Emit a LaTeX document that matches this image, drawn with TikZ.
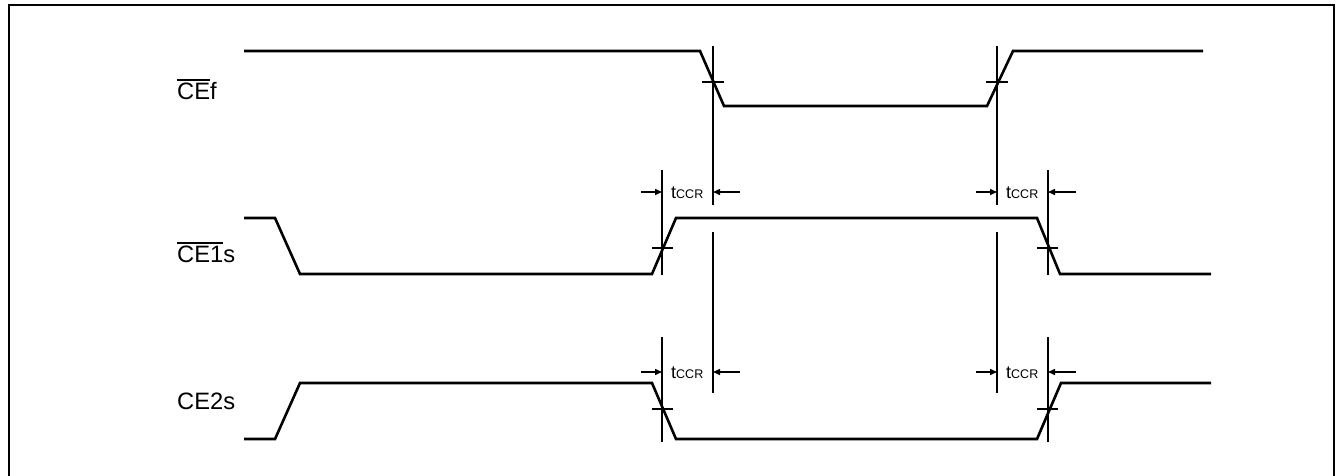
\documentclass[tikz,border=0pt]{standalone}
\usepackage{fontspec}
\setmainfont{Liberation Sans}
\usetikzlibrary{arrows.meta}
\newcommand\ovbar[1]{\leavevmode\vbox{\hrule height 1.4pt \kern 1.6pt \hbox{#1}}}
\newcommand\tccrtext{{\fontsize{18}{20}\selectfont t}{\fontsize{12.5}{14}\selectfont CCR}}
\begin{document}
\begin{tikzpicture}[x=1pt,y=-1pt,
  signal/.style={line width=2.6pt,line join=miter},
  refline/.style={line width=1.8pt},
  tickline/.style={line width=1.8pt},
  dimarrow/.style={line width=1.5pt,-{Triangle[length=7pt,width=6pt]}},
  siglabel/.style={anchor=base west,inner sep=0pt,font=\fontsize{23.7}{28}\selectfont},
  tlabel/.style={anchor=base west,inner sep=0pt}]
\useasboundingbox (0,0) rectangle (1338,475);
% frame
\draw[line width=1.3pt] (9,478) -- (9,5) -- (1334,5) -- (1334,478);
% labels
\node[siglabel] (lcef) at (177,99) {\ovbar{CE}f};
\node[siglabel] (lce1) at (177,262) {\ovbar{CE1}s};
\node[siglabel] (lce2) at (177,409) {CE2s};
% signals
\draw[signal] (244,51) -- (700,51) -- (724,106) -- (987,106) -- (1013,51) -- (1203,51);
\draw[signal] (244,218) -- (275,218) -- (300,274) -- (652,274) -- (676,218) -- (1037,218) -- (1060,274) -- (1211,274);
\draw[signal] (244,439) -- (275,439) -- (300,383) -- (652,383) -- (676,439) -- (1037,439) -- (1061,383) -- (1211,383);
% reference verticals
\draw[refline] (713,46) -- (713,205);
\draw[refline] (713,232) -- (713,393);
\draw[refline] (997,46) -- (997,205);
\draw[refline] (997,232) -- (997,393);
\draw[refline] (662,170) -- (662,275);
\draw[refline] (662,337) -- (662,442);
\draw[refline] (1048,170) -- (1048,275);
\draw[refline] (1048,337) -- (1048,442);
% ticks
\draw[tickline] (702,82) -- (724,82);
\draw[tickline] (986,82) -- (1008,82);
\draw[tickline] (652,248) -- (673,248);
\draw[tickline] (1037,248) -- (1058,248);
\draw[tickline] (652,409) -- (673,409);
\draw[tickline] (1037,409) -- (1058,409);
% arrow coordinates
\coordinate (a1s) at (641,192); \coordinate (a1e) at (662,192);
\coordinate (b1s) at (740,192); \coordinate (b1e) at (713,192);
\coordinate (a2s) at (976,192); \coordinate (a2e) at (997,192);
\coordinate (b2s) at (1076,192); \coordinate (b2e) at (1048,192);
\coordinate (a3s) at (641,372); \coordinate (a3e) at (662,372);
\coordinate (b3s) at (740,372); \coordinate (b3e) at (713,372);
\coordinate (a4s) at (976,372); \coordinate (a4e) at (997,372);
\coordinate (b4s) at (1076,372); \coordinate (b4e) at (1048,372);
\foreach \k in {1,2,3,4}{
  \draw[dimarrow] (a\k s) -- (a\k e);
  \draw[dimarrow] (b\k s) -- (b\k e);
}
% tCCR labels
\node[tlabel] (t1) at (671,198) {\tccrtext};
\node[tlabel] (t2) at (1006,198) {\tccrtext};
\node[tlabel] (t3) at (671,378) {\tccrtext};
\node[tlabel] (t4) at (1006,378) {\tccrtext};
\end{tikzpicture}
\end{document}
